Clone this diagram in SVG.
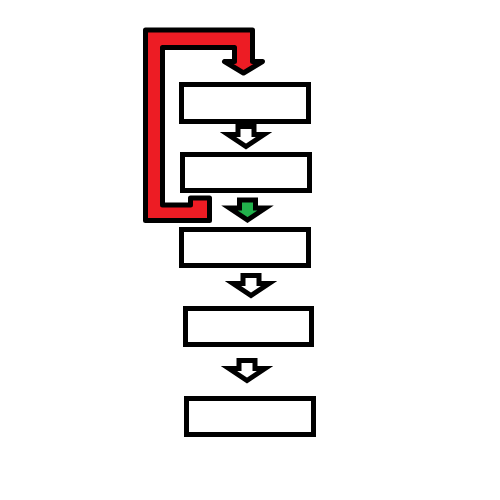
<svg xmlns="http://www.w3.org/2000/svg" xmlns:xlink="http://www.w3.org/1999/xlink" width="500" height="500" viewBox="0 0 500 500">
<style>
.box{fill:#ffffff;stroke:#000000;stroke-width:5}
.arr{stroke:#000000;stroke-width:5;stroke-linejoin:miter}
.white{fill:#ffffff}
.green{fill:#22b14c}
.red{fill:#ed1c24;stroke:#000000;stroke-width:5;stroke-linejoin:round}
</style>
<defs>
<path id="down" d="M -8 0 H 8 V 8 H 18 L 0 20 L -18 8 H -8 Z"/>
</defs>
<rect width="500" height="500" fill="#ffffff"/>
<g id="n1"><rect class="box" x="181.5" y="84.5" width="127" height="37"/></g>
<g id="n2"><rect class="box" x="182.5" y="154.5" width="127" height="36"/></g>
<g id="n3"><rect class="box" x="181.5" y="229.5" width="127" height="36"/></g>
<g id="n4"><rect class="box" x="185.5" y="308.5" width="126" height="36"/></g>
<g id="n5"><rect class="box" x="186.5" y="398.5" width="127" height="36"/></g>
<g id="connectors">
<path class="red" d="M 145.5 30 H 252.5 V 61.5 H 262.5 L 243.5 73 L 224.5 61.5 H 234.5 V 47.5 H 162.5 V 205 H 190.5 V 198 H 209.5 V 220.5 H 145.5 Z"/>
<use xlink:href="#down" class="arr white" x="246" y="126.5"/>
<use xlink:href="#down" class="arr green" x="247.5" y="200"/>
<use xlink:href="#down" class="arr white" x="251" y="275.5"/>
<use xlink:href="#down" class="arr white" x="247" y="360.5"/>
</g>
</svg>
